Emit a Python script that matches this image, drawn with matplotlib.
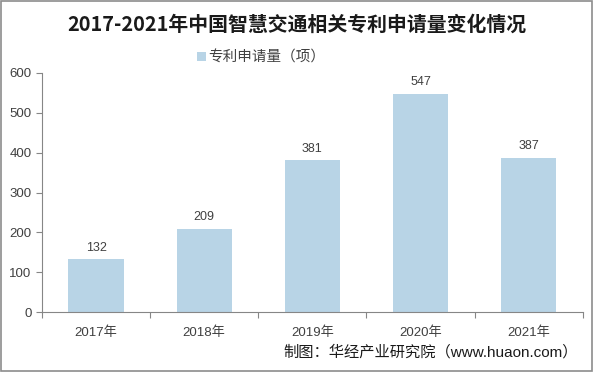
import matplotlib.pyplot as plt
from matplotlib.patches import Rectangle

plt.rcParams['font.family'] = ['Liberation Sans', 'Noto Sans CJK SC']

# 数据
years = ['2017年', '2018年', '2019年', '2020年', '2021年']
patents = [132, 209, 381, 547, 387]
title = '2017-2021年中国智慧交通相关专利申请量变化情况'
series_name = '专利申请量（项）'
source = '制图：华经产业研究院（www.huaon.com）'

bar_color = '#b8d4e6'
axis_color = '#868686'

fig = plt.figure(figsize=(5.94, 3.72), dpi=100)
ax = fig.add_axes([0.0707, 0.161, 0.9103, 0.643])

x = list(range(len(years)))
bars = ax.bar(x, patents, width=0.51, color=bar_color, label=series_name)
for xi, v in zip(x, patents):
    ax.text(xi, v + 14, str(v), ha='center', va='bottom', fontsize=9, color='#404040')

ax.set_xlim(-0.5, len(years) - 0.5)
ax.set_ylim(0, 600)
ax.set_yticks(range(0, 601, 100))
ax.set_xticks(x)
ax.set_xticklabels(years, fontsize=9.5, color='#404040')
ax.tick_params(axis='y', labelsize=9.5, labelcolor='#404040', color=axis_color, length=4, width=0.8)
ax.tick_params(axis='x', length=0, pad=10)
# 分类分隔刻度
ax.set_xticks([i - 0.5 for i in range(len(years) + 1)], minor=True)
ax.tick_params(axis='x', which='minor', length=4, color=axis_color, width=0.8)

for s in ['top', 'right']:
    ax.spines[s].set_visible(False)
ax.spines['left'].set_color(axis_color)
ax.spines['bottom'].set_color(axis_color)
ax.spines['left'].set_linewidth(0.8)
ax.spines['bottom'].set_linewidth(0.8)

fig.text(0.5, 0.935, title, ha='center', va='center', fontsize=14.3, fontweight='bold',
         color='#1a1a1a', family=['Noto Sans CJK SC'])
ax.legend(loc='center', bbox_to_anchor=(0.44, 0.845), bbox_transform=fig.transFigure,
          frameon=False, fontsize=10.5, handlelength=0.6, handleheight=0.6, handletextpad=0.2,
          labelcolor='#404040')
fig.text(0.973, 0.052, source, ha='right', va='center', fontsize=11, color='#1a1a1a')

# 外框
fig.patches.append(Rectangle((0.002, 0.003), 0.995, 0.993, transform=fig.transFigure,
                             fill=False, edgecolor='#8c8c8c', linewidth=1.2))

fig.savefig('out.png', dpi=100)
